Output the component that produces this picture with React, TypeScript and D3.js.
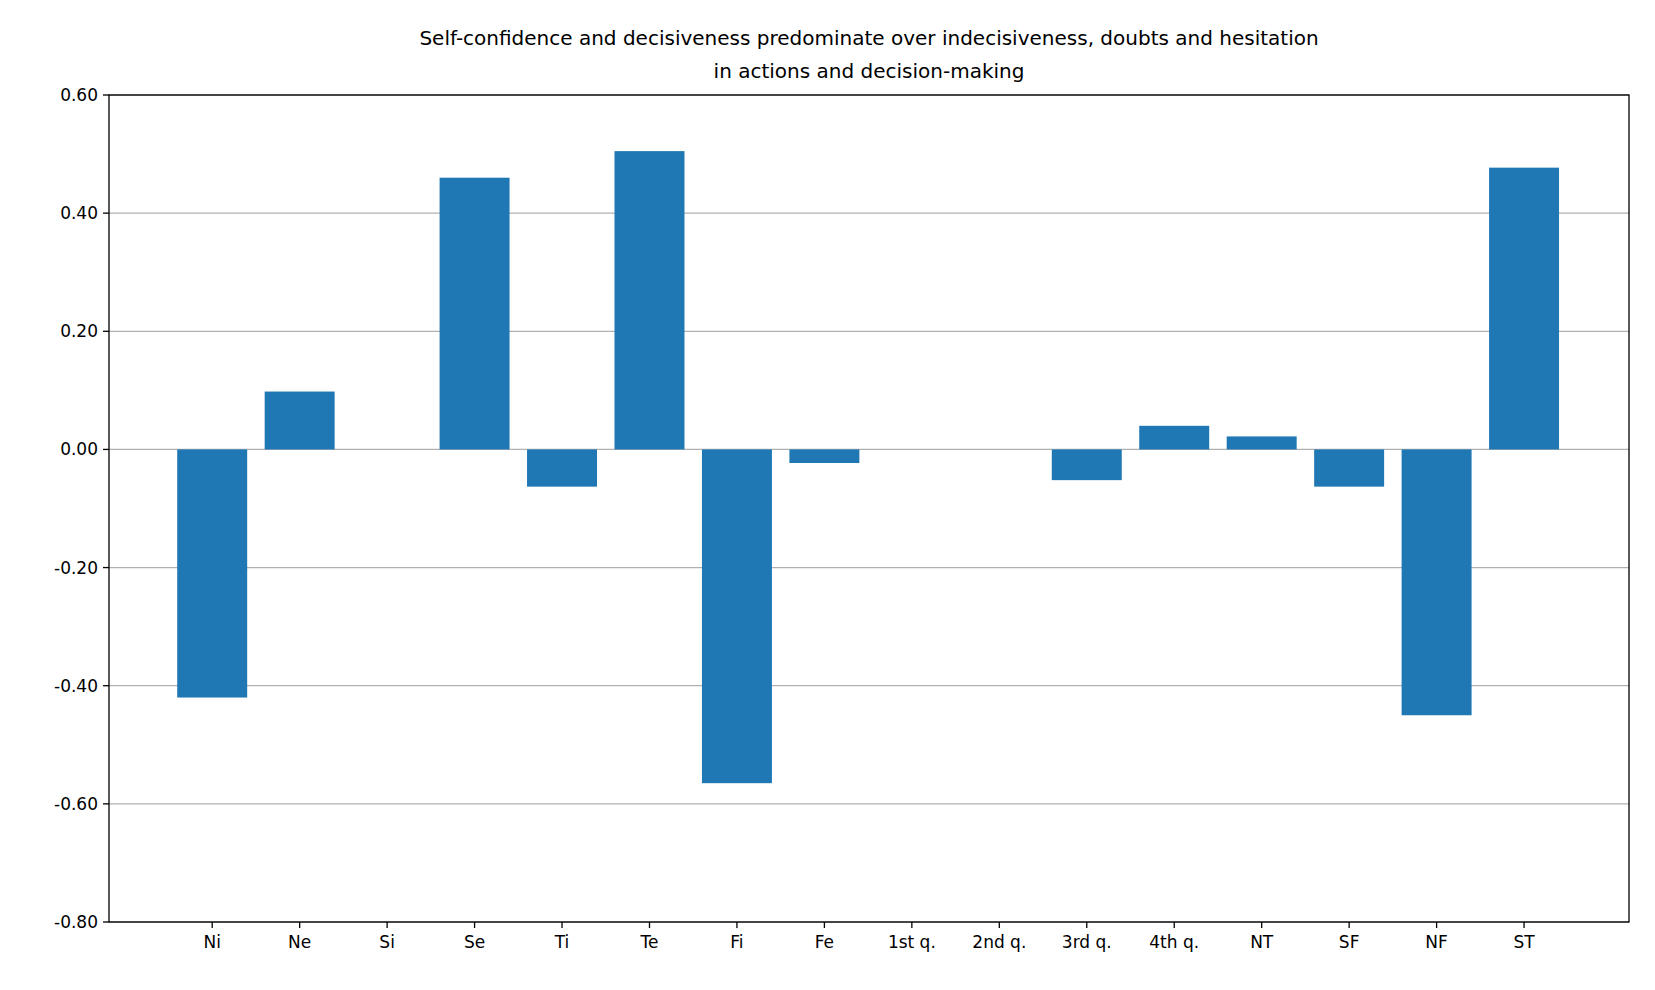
import * as d3 from 'd3'

const categories = ['Ni', 'Ne', 'Si', 'Se', 'Ti', 'Te', 'Fi', 'Fe', '1st q.', '2nd q.', '3rd q.', '4th q.', 'NT', 'SF', 'NF', 'ST']
const values = [-0.42, 0.098, 0, 0.46, -0.063, 0.505, -0.565, -0.023, 0, 0, -0.052, 0.04, 0.022, -0.063, -0.45, 0.477]
const yTicks = [-0.8, -0.6, -0.4, -0.2, 0, 0.2, 0.4, 0.6]
const titleLines = [
  'Self-confidence and decisiveness predominate over indecisiveness, doubts and hesitation',
  'in actions and decision-making',
]

const W = 1655
const H = 990
const M = { left: 109, right: 26, top: 95, bottom: 68 }

export default function App() {
  const x = d3.scaleLinear().domain([-1.18, 16.2]).range([M.left, W - M.right])
  const y = d3.scaleLinear().domain([-0.8, 0.6]).range([H - M.bottom, M.top])
  const bw = x(0.8) - x(0)
  return (
    <svg width={W} height={H} style={{ position: 'absolute', left: 0, top: 0, fontFamily: 'DejaVu Sans' }}>
      <rect width={W} height={H} fill="#fff" />
      {yTicks.map((t) => (
        <g key={t}>
          <line x1={M.left} x2={W - M.right} y1={y(t)} y2={y(t)} stroke="#b0b0b0" strokeWidth={1.3} />
          <line x1={M.left - 6} x2={M.left} y1={y(t)} y2={y(t)} stroke="#000" strokeWidth={1.3} />
          <text x={M.left - 11} y={y(t)} dy="0.35em" textAnchor="end" fontSize={17}>{t.toFixed(2)}</text>
        </g>
      ))}
      {values.map((v, i) => (
        <rect key={i} x={x(i) - bw / 2} width={bw} y={y(Math.max(0, v))} height={Math.abs(y(v) - y(0))} fill="#1f77b4" />
      ))}
      {categories.map((c, i) => (
        <g key={c}>
          <line x1={x(i)} x2={x(i)} y1={H - M.bottom} y2={H - M.bottom + 6} stroke="#000" strokeWidth={1.3} />
          <text x={x(i)} y={H - M.bottom + 26} textAnchor="middle" fontSize={17}>{c}</text>
        </g>
      ))}
      <rect x={M.left} y={M.top} width={W - M.left - M.right} height={H - M.top - M.bottom} fill="none" stroke="#000" strokeWidth={1.3} />
      {titleLines.map((t, i) => (
        <text key={i} x={(M.left + W - M.right) / 2} y={45 + i * 33} textAnchor="middle" fontSize={20}>{t}</text>
      ))}
    </svg>
  )
}
